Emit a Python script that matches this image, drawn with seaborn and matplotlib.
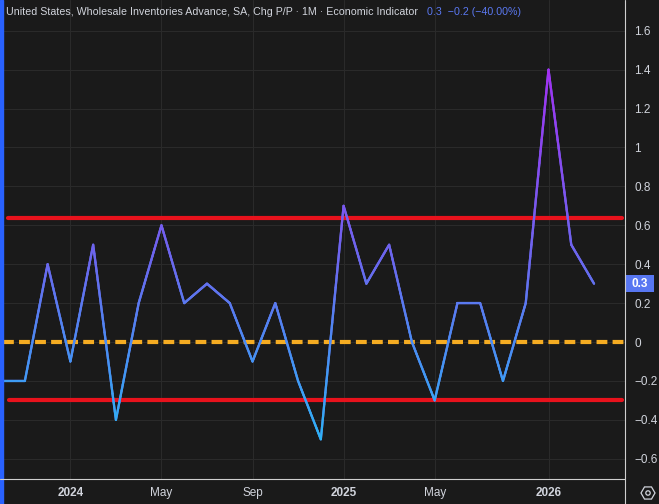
import numpy as np
import pandas as pd
import matplotlib
matplotlib.use('Agg')
import matplotlib.pyplot as plt
import seaborn as sns
from matplotlib.collections import LineCollection
from matplotlib.colors import LinearSegmentedColormap
from matplotlib.lines import Line2D
from matplotlib.patches import Rectangle, RegularPolygon, Circle

# 데이터 (월별 변화율, %)
months = ['2023-10', '2023-11', '2023-12', '2024-01', '2024-02', '2024-03', '2024-04',
          '2024-05', '2024-06', '2024-07', '2024-08', '2024-09', '2024-10', '2024-11',
          '2024-12', '2025-01', '2025-02', '2025-03', '2025-04', '2025-05', '2025-06',
          '2025-07', '2025-08', '2025-09', '2026-01', '2026-02', '2026-03']
values = [-0.2, -0.2, 0.4, -0.1, 0.5, -0.4, 0.2, 0.6, 0.2, 0.3, 0.2, -0.1, 0.2, -0.2,
          -0.5, 0.7, 0.3, 0.5, 0.0, -0.3, 0.2, 0.2, -0.2, 0.2, 1.4, 0.5, 0.3]

tick_months = ['2024-01', '2024-05', '2024-09', '2025-01', '2025-05', '2026-01']
tick_labels = ['2024', 'May', 'Sep', '2025', 'May', '2026']
y_ticks = [1.6, 1.4, 1.2, 1.0, 0.8, 0.6, 0.4, 0.2, 0.0, -0.2, -0.4, -0.6]

upper_band = 0.635
lower_band = -0.3
title = 'United States, Wholesale Inventories Advance, SA, Chg P/P · 1M · Economic Indicator'
change_text = '0.3  \u22120.2 (\u221240.00%)'

bg = '#1a1a1a'
txt = '#d1d4dc'

sns.set_theme(style='dark', rc={'axes.facecolor': bg, 'figure.facecolor': bg})
plt.rcParams['font.family'] = ['Liberation Sans', 'DejaVu Sans']

df = pd.DataFrame({'month': months, 'value': values})
df['idx'] = range(len(df))

fig = plt.figure(figsize=(6.59, 5.04), dpi=100)
W, H = 659, 504
ax = fig.add_axes([3 / W, 25 / H, 622 / W, 479 / H])
ax.set_facecolor(bg)

# 기준선
ax.axhline(0, color='#f5ac22', lw=3, dashes=(2.6, 1.25), zorder=2)
ax.axhline(upper_band, xmin=0.008, xmax=0.995, color='#e8121c', lw=3, zorder=2)
ax.axhline(lower_band, xmin=0.01, xmax=0.995, color='#e8121c', lw=3, zorder=2)

# 라인
sns.lineplot(data=df, x='idx', y='value', ax=ax, color='#6a70f0', lw=1.6, zorder=3)

# 값에 따른 그라데이션 색
vmin, vmax = -0.5, 1.4
stops = [(-0.5, '#2cb4f5'), (0.0, '#4a8cf2'), (0.4, '#6a68ee'), (1.4, '#a52ef2')]
cmap = LinearSegmentedColormap.from_list('tv', [((v - vmin) / (vmax - vmin), c) for v, c in stops])
pts = ax.lines[-1].get_xydata()
segs, cols = [], []
for (x0, y0), (x1, y1) in zip(pts[:-1], pts[1:]):
    t = np.linspace(0, 1, 21)
    xs, ys = x0 + (x1 - x0) * t, y0 + (y1 - y0) * t
    for k in range(len(t) - 1):
        segs.append([(xs[k], ys[k]), (xs[k + 1], ys[k + 1])])
        cols.append((ys[k] + ys[k + 1]) / 2)
lc = LineCollection(segs, cmap=cmap, norm=plt.Normalize(vmin, vmax), lw=1.6,
                    capstyle='round', zorder=4)
lc.set_array(np.array(cols))
ax.add_collection(lc)

ax.set_xlim(0.04, 27.36)
ax.set_ylim(-0.704, 1.758)

ax.set_xticks([months.index(m) for m in tick_months])
ax.set_xticklabels(tick_labels)
for lab in ax.get_xticklabels():
    if lab.get_text().isdigit():
        lab.set_fontweight('bold')
ax.set_yticks(y_ticks)
ax.set_yticklabels([('%g' % v).replace('-', '\u2212') for v in y_ticks])
ax.yaxis.tick_right()
ax.tick_params(axis='both', length=0, colors=txt, labelsize=8.5)
ax.tick_params(axis='y', pad=6.5)
ax.tick_params(axis='x', pad=6)
ax.grid(True, color='#2a2a2a', lw=0.8)
ax.set_xlabel('')
ax.set_ylabel('')
for s in ax.spines.values():
    s.set_visible(False)

# 마지막 값 표시
ytr = ax.get_yaxis_transform()
box_h = 17 / 194.5
ax.add_patch(Rectangle((1.0016, values[-1] - box_h / 2), 28 / 622, box_h, transform=ytr,
                       fc='#5877f2', ec='none', clip_on=False, zorder=6))
ax.text(1.0016 + 14 / 622, values[-1], '0.3', transform=ytr, ha='center', va='center',
        color='white', fontsize=8.5, fontweight='bold', zorder=7)

# 테두리, 축선
fig.add_artist(Line2D([625 / W, 625 / W], [0, 1], color='#cfcfcf', lw=0.8))
fig.add_artist(Line2D([0, 625 / W], [25 / H, 25 / H], color='#cfcfcf', lw=0.8))
fig.add_artist(Rectangle((0, 0), 3 / W, 1, color='#2962ff', transform=fig.transFigure))

# 설정 아이콘
fig.add_artist(RegularPolygon((6.48, 0.11), 6, radius=0.07, orientation=np.pi / 6,
                              fill=False, ec=txt, lw=0.9, transform=fig.dpi_scale_trans))
fig.add_artist(Circle((6.48, 0.11), 0.022, fill=False, ec=txt, lw=0.9,
                      transform=fig.dpi_scale_trans))

# 제목
t1 = fig.text(6 / W, 1 - 12 / H, title, color=txt, fontsize=7.7, va='center', ha='left')
fig.canvas.draw()
bb = t1.get_window_extent()
fig.text((bb.x1 + 9) / W, 1 - 12 / H, change_text, color='#5a78f0', fontsize=7.7,
         va='center', ha='left')

plt.savefig('out.png', dpi=100, facecolor=bg)
